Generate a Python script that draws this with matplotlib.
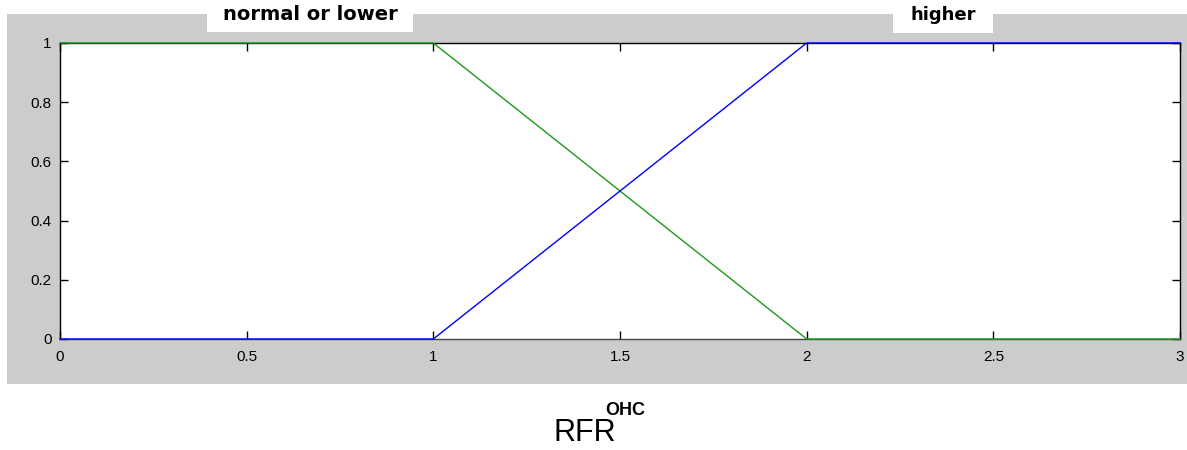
import matplotlib
matplotlib.use("Agg")
import matplotlib.pyplot as plt
from matplotlib.patches import Rectangle

# membership functions
x_pts = [0, 1, 2, 3]
normal_or_lower = [1, 1, 0, 0]
higher = [0, 0, 1, 1]

x_ticks = [0, 0.5, 1, 1.5, 2, 2.5, 3]
x_labels = ["0", "0.5", "1", "1.5", "2", "2.5", "3"]
y_ticks = [0, 0.2, 0.4, 0.6, 0.8, 1]
y_labels = ["0", "0.2", "0.4", "0.6", "0.8", "1"]

W, H = 1187, 450
fig = plt.figure(figsize=(W / 100, H / 100), dpi=100)
fig.patch.set_facecolor("white")

def px_rect(x0, y0, x1, y1, color):
    # rectangle given in pixel coords (origin top-left)
    r = Rectangle((x0 / W, 1 - y1 / H), (x1 - x0) / W, (y1 - y0) / H,
                  transform=fig.transFigure, facecolor=color, edgecolor="none", zorder=0)
    fig.patches.append(r)

px_rect(7, 14, W, 384, "#cccccc")
px_rect(207, 0, 413, 32, "white")
px_rect(893, 0, 993, 33, "white")

ax = fig.add_axes([60 / W, 1 - 339 / H, 1120 / W, 296 / H])
ax.set_zorder(2)
ax.set_facecolor("white")
ax.plot(x_pts, normal_or_lower, color="#1a9a1a", lw=1.0, clip_on=False, zorder=3)
ax.plot(x_pts, higher, color="#0000ff", lw=1.0, clip_on=False, zorder=3)
ax.set_xlim(0, 3)
ax.set_ylim(0, 1)
ax.set_xticks(x_ticks)
ax.set_xticklabels(x_labels)
ax.set_yticks(y_ticks)
ax.set_yticklabels(y_labels)
ax.tick_params(direction="in", length=6, width=1, top=True, right=True,
               labelsize=11, color="black")
ax.tick_params(axis="x", pad=8)
ax.tick_params(axis="y", pad=6)
for lab in ax.get_xticklabels() + ax.get_yticklabels():
    lab.set_family("Liberation Sans")
for s in ax.spines.values():
    s.set_color("black")
    s.set_linewidth(1)
ax.spines["bottom"].set_color("#444444")

fig.text(310 / W, 1 - 15 / H, "normal or lower", ha="center", va="center",
         fontsize=14, fontweight="bold", family="DejaVu Sans")
fig.text(943 / W, 1 - 15 / H, "higher", ha="center", va="center",
         fontsize=13, fontweight="bold", family="DejaVu Sans")

fig.text(585 / W, 1 - 448 / H, "RFR", ha="center", va="bottom",
         fontsize=22, family="Liberation Sans")
fig.text(605 / W, 1 - 415 / H, "OHC", ha="left", va="baseline",
         fontsize=13, fontweight="bold", family="Liberation Sans")

fig.savefig("out.png", dpi=100, facecolor=fig.get_facecolor())
